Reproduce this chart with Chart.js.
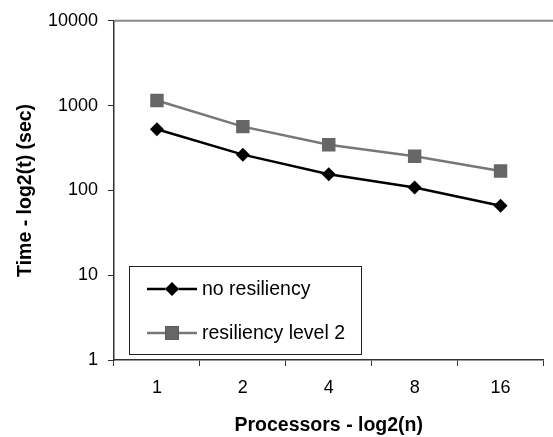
<!DOCTYPE html>
<html lang="en">
<head>
    <meta charset="UTF-8">
    <title>Time vs processors</title>
    <script src="https://cdn.jsdelivr.net/npm/chart.js@4.4.0/dist/chart.umd.min.js"></script>
    <style>
        html, body { margin: 0; padding: 0; background: #fff; }
        #wrap { width: 553px; height: 437px; }
    </style>
</head>
<body>
<div id="wrap"><canvas id="time-chart" width="553" height="437"></canvas></div>

<script>
    const processors = ["1", "2", "4", "8", "16"];
    const noResiliency = [527, 264, 155, 108, 66];
    const resiliencyLevel2 = [1150, 565, 345, 253, 169];
    const yTicks = [1, 10, 100, 1000, 10000];

    const font = "'Liberation Sans', Arial, sans-serif";

    // legend box inside the plot, drawn like the spreadsheet one
    const boxLegend = {
        id: 'boxLegend',
        afterDraw(chart) {
            const ctx = chart.ctx;
            const area = chart.chartArea;
            const x0 = area.left + 15, y0 = 266, w = 232, h = 88;
            ctx.save();
            ctx.fillStyle = '#fff';
            ctx.fillRect(x0, y0, w, h);
            ctx.strokeStyle = '#222';
            ctx.lineWidth = 1;
            ctx.strokeRect(x0 + 0.5, y0 + 0.5, w, h);
            chart.data.datasets.forEach((ds, i) => {
                const y = y0 + 23 + i * 44;
                ctx.strokeStyle = ds.borderColor;
                ctx.lineWidth = ds.borderWidth;
                ctx.beginPath();
                ctx.moveTo(x0 + 18, y);
                ctx.lineTo(x0 + 68, y);
                ctx.stroke();
                Chart.helpers.drawPoint(ctx, {
                    pointStyle: ds.pointStyle,
                    radius: ds.pointRadius,
                    borderWidth: 0
                }, x0 + 43, y);
                ctx.fillStyle = ds.pointBackgroundColor;
                ctx.fill();
                ctx.fillStyle = '#000';
                ctx.font = '19.5px ' + font;
                ctx.textBaseline = 'middle';
                ctx.fillText(ds.label, x0 + 73, y + 1);
            });
            ctx.restore();
        }
    };

    // thin gray line along the top of the plot area
    const topLine = {
        id: 'topLine',
        afterDraw(chart) {
            const ctx = chart.ctx;
            const a = chart.chartArea;
            ctx.save();
            ctx.strokeStyle = '#888';
            ctx.lineWidth = 2;
            ctx.beginPath();
            ctx.moveTo(a.left, a.top);
            ctx.lineTo(chart.width, a.top);
            ctx.stroke();
            ctx.restore();
        }
    };

    new Chart("time-chart", {
        type: 'line',
        data: {
            labels: processors,
            datasets: [{
                label: 'no resiliency',
                data: noResiliency,
                borderColor: '#000',
                backgroundColor: '#000',
                pointBackgroundColor: '#000',
                pointBorderColor: '#000',
                borderWidth: 2.5,
                pointStyle: 'rectRot',
                pointRadius: 7,
                pointBorderWidth: 0,
                tension: 0
            }, {
                label: 'resiliency level 2',
                data: resiliencyLevel2,
                borderColor: '#777',
                backgroundColor: '#666',
                pointBackgroundColor: '#666',
                pointBorderColor: '#666',
                borderWidth: 2.5,
                pointStyle: 'rect',
                pointRadius: 9.5,
                pointBorderWidth: 0,
                tension: 0
            }]
        },
        options: {
            responsive: false,
            animation: false,
            layout: { padding: { top: 14, right: 0, left: 0, bottom: 0 } },
            plugins: {
                legend: { display: false },
                tooltip: { enabled: false }
            },
            scales: {
                x: {
                    type: 'category',
                    offset: true,
                    grid: {
                        offset: true,
                        drawOnChartArea: false,
                        drawTicks: true,
                        tickLength: 6,
                        color: '#333',
                        tickColor: '#333'
                    },
                    border: { display: true, color: '#333', width: 1.5 },
                    ticks: { color: '#000', font: { family: font, size: 18 }, padding: 11 },
                    title: {
                        display: true,
                        text: 'Processors - log2(n)',
                        color: '#000',
                        font: { family: font, size: 19.5, weight: 'bold' },
                        padding: { top: 8, bottom: 0 }
                    },
                    afterFit(scale) { scale.height = 77; }
                },
                y: {
                    type: 'logarithmic',
                    min: 1,
                    max: 10000,
                    afterBuildTicks(scale) {
                        scale.ticks = yTicks.map(v => ({ value: v }));
                    },
                    grid: {
                        drawOnChartArea: false,
                        drawTicks: true,
                        tickLength: 6,
                        color: '#333',
                        tickColor: '#333'
                    },
                    border: { display: true, color: '#333', width: 1.5 },
                    ticks: {
                        color: '#000',
                        font: { family: font, size: 18 },
                        padding: 10,
                        callback: v => String(v)
                    },
                    title: {
                        display: true,
                        text: 'Time - log2(t) (sec)',
                        color: '#000',
                        font: { family: font, size: 19.5, weight: 'bold' },
                        padding: { top: 14, bottom: 0 }
                    },
                    afterFit(scale) { scale.width = 114; }
                }
            }
        },
        plugins: [topLine, boxLegend]
    });
</script>
</body>
</html>
